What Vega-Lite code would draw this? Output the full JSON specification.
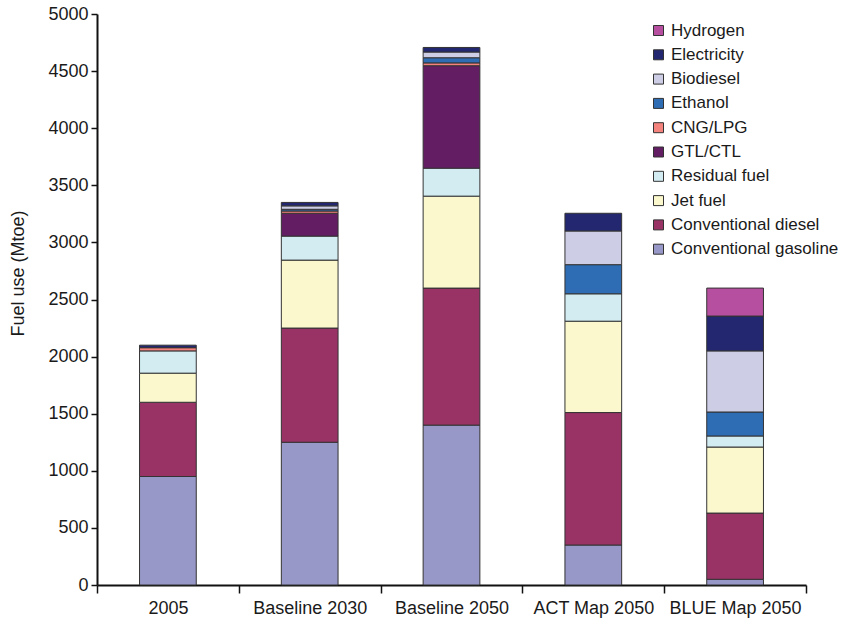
{
  "$schema": "https://vega.github.io/schema/vega-lite/v6.json",
  "width": 709,
  "height": 571,
  "autosize": "none",
  "padding": {"left": 97, "top": 14, "right": 38, "bottom": 37},
  "background": "white",
  "config": {
    "font": "Liberation Sans",
    "view": {"stroke": null},
    "axis": {"grid": false, "domainColor": "#111", "tickColor": "#111", "labelColor": "#1a1a1a", "titleColor": "#1a1a1a"}
  },
  "data": {
    "values": [
      {"scenario": "2005", "fuel": "Conventional gasoline", "mtoe": 950},
      {"scenario": "2005", "fuel": "Conventional diesel", "mtoe": 650},
      {"scenario": "2005", "fuel": "Jet fuel", "mtoe": 255},
      {"scenario": "2005", "fuel": "Residual fuel", "mtoe": 195},
      {"scenario": "2005", "fuel": "CNG/LPG", "mtoe": 28},
      {"scenario": "2005", "fuel": "Electricity", "mtoe": 22},

      {"scenario": "Baseline 2030", "fuel": "Conventional gasoline", "mtoe": 1250},
      {"scenario": "Baseline 2030", "fuel": "Conventional diesel", "mtoe": 1000},
      {"scenario": "Baseline 2030", "fuel": "Jet fuel", "mtoe": 595},
      {"scenario": "Baseline 2030", "fuel": "Residual fuel", "mtoe": 210},
      {"scenario": "Baseline 2030", "fuel": "GTL/CTL", "mtoe": 200},
      {"scenario": "Baseline 2030", "fuel": "CNG/LPG", "mtoe": 20},
      {"scenario": "Baseline 2030", "fuel": "Ethanol", "mtoe": 15},
      {"scenario": "Baseline 2030", "fuel": "Biodiesel", "mtoe": 30},
      {"scenario": "Baseline 2030", "fuel": "Electricity", "mtoe": 30},

      {"scenario": "Baseline 2050", "fuel": "Conventional gasoline", "mtoe": 1400},
      {"scenario": "Baseline 2050", "fuel": "Conventional diesel", "mtoe": 1200},
      {"scenario": "Baseline 2050", "fuel": "Jet fuel", "mtoe": 805},
      {"scenario": "Baseline 2050", "fuel": "Residual fuel", "mtoe": 245},
      {"scenario": "Baseline 2050", "fuel": "GTL/CTL", "mtoe": 897},
      {"scenario": "Baseline 2050", "fuel": "CNG/LPG", "mtoe": 25},
      {"scenario": "Baseline 2050", "fuel": "Ethanol", "mtoe": 45},
      {"scenario": "Baseline 2050", "fuel": "Biodiesel", "mtoe": 50},
      {"scenario": "Baseline 2050", "fuel": "Electricity", "mtoe": 40},

      {"scenario": "ACT Map 2050", "fuel": "Conventional gasoline", "mtoe": 350},
      {"scenario": "ACT Map 2050", "fuel": "Conventional diesel", "mtoe": 1160},
      {"scenario": "ACT Map 2050", "fuel": "Jet fuel", "mtoe": 800},
      {"scenario": "ACT Map 2050", "fuel": "Residual fuel", "mtoe": 240},
      {"scenario": "ACT Map 2050", "fuel": "Ethanol", "mtoe": 255},
      {"scenario": "ACT Map 2050", "fuel": "Biodiesel", "mtoe": 295},
      {"scenario": "ACT Map 2050", "fuel": "Electricity", "mtoe": 155},

      {"scenario": "BLUE Map 2050", "fuel": "Conventional gasoline", "mtoe": 50},
      {"scenario": "BLUE Map 2050", "fuel": "Conventional diesel", "mtoe": 580},
      {"scenario": "BLUE Map 2050", "fuel": "Jet fuel", "mtoe": 578},
      {"scenario": "BLUE Map 2050", "fuel": "Residual fuel", "mtoe": 97},
      {"scenario": "BLUE Map 2050", "fuel": "Ethanol", "mtoe": 210},
      {"scenario": "BLUE Map 2050", "fuel": "Biodiesel", "mtoe": 535},
      {"scenario": "BLUE Map 2050", "fuel": "Electricity", "mtoe": 305},
      {"scenario": "BLUE Map 2050", "fuel": "Hydrogen", "mtoe": 245}
    ]
  },
  "transform": [
    {"calculate": "indexof(['Conventional gasoline','Conventional diesel','Jet fuel','Residual fuel','GTL/CTL','CNG/LPG','Ethanol','Biodiesel','Electricity','Hydrogen'], datum.fuel)", "as": "stackRank"}
  ],
  "mark": {"type": "bar", "width": {"band": 0.4}, "stroke": "#333", "strokeWidth": 1},
  "encoding": {
    "x": {
      "field": "scenario",
      "type": "nominal",
      "sort": null,
      "title": null,
      "scale": {"paddingInner": 0, "paddingOuter": 0},
      "axis": {
        "labelAngle": 0,
        "labelFontSize": 18,
        "labelPadding": 6,
        "tickBand": "extent",
        "tickSize": 8,
        "tickWidth": 1.5,
        "domainWidth": 2
      }
    },
    "y": {
      "field": "mtoe",
      "type": "quantitative",
      "aggregate": "sum",
      "stack": "zero",
      "title": "Fuel use (Mtoe)",
      "scale": {"domain": [0, 5000], "nice": false},
      "axis": {
        "values": [0, 500, 1000, 1500, 2000, 2500, 3000, 3500, 4000, 4500, 5000],
        "format": "d",
        "labelFontSize": 18,
        "labelPadding": 3,
        "tickSize": 6,
        "tickWidth": 1.5,
        "domainWidth": 2,
        "titleFontSize": 18,
        "titleFontWeight": "normal",
        "titleX": -79,
        "titleY": 259,
        "titleAngle": -90,
        "titleAlign": "center",
        "titleBaseline": "middle"
      }
    },
    "order": {"field": "stackRank", "type": "quantitative", "sort": "ascending"},
    "color": {
      "field": "fuel",
      "type": "nominal",
      "title": null,
      "scale": {
        "domain": ["Hydrogen", "Electricity", "Biodiesel", "Ethanol", "CNG/LPG", "GTL/CTL", "Residual fuel", "Jet fuel", "Conventional diesel", "Conventional gasoline"],
        "range": ["#b64f9f", "#222770", "#cdcde6", "#2e6db4", "#f4837d", "#631d63", "#d2ecf2", "#faf8cc", "#993366", "#9898c8"]
      },
      "legend": {
        "orient": "none",
        "legendX": 553,
        "legendY": 8,
        "padding": 0,
        "symbolType": "square",
        "symbolSize": 100,
        "symbolStrokeColor": "#333",
        "symbolStrokeWidth": 1,
        "labelFontSize": 17,
        "labelColor": "#1a1a1a",
        "labelOffset": 4,
        "rowPadding": 6.3,
        "labelLimit": 300
      }
    }
  }
}
